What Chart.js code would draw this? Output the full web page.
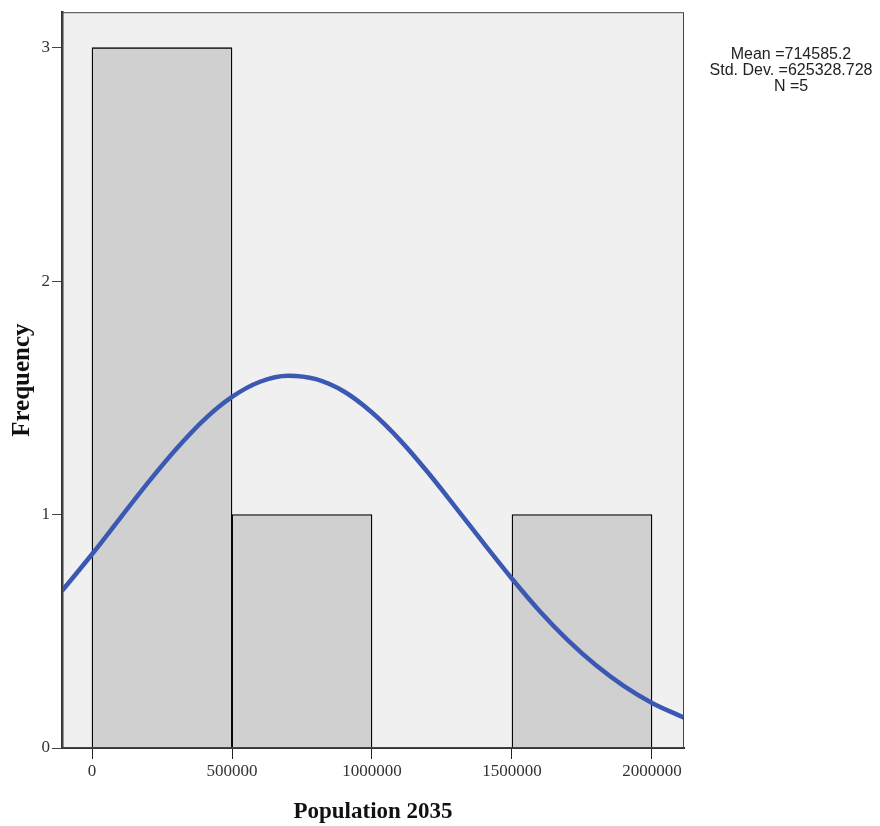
<!DOCTYPE html>
<html>
<head>
<meta charset="utf-8">
<script src="https://cdn.jsdelivr.net/npm/chart.js@4"></script>
<style>
  html, body { margin: 0; padding: 0; background: #fff; }
  #wrap { position: relative; width: 880px; height: 826px; }
  #stats {
    position: absolute; left: 701px; top: 46px; width: 180px;
    font-family: "Liberation Sans", Arial, sans-serif; font-size: 16px;
    line-height: 16px; text-align: center; color: #222;
  }
</style>
</head>
<body>
<div id="wrap">
  <canvas id="hist" width="880" height="826"></canvas>
  <div id="stats">Mean =714585.2<br>Std. Dev. =625328.728<br>N =5</div>
</div>
<script>
// Histogram bins (bin centres) and counts
const binCenters = [250000, 750000, 1250000, 1750000];
const binCounts = [3, 1, 0, 1];

// Normal curve
const curveX = [-107143, 0, 100000, 200000, 300000, 400000, 500000, 600000, 700000,
  800000, 900000, 1000000, 1100000, 1200000, 1300000, 1400000, 1500000, 1600000, 1700000,
  1800000, 1900000, 2000000, 2114286];
const curveY = [0.673, 0.830, 0.984, 1.137, 1.280, 1.406, 1.504, 1.569, 1.595,
  1.580, 1.527, 1.437, 1.319, 1.180, 1.029, 0.875, 0.725, 0.585, 0.461,
  0.354, 0.265, 0.193, 0.130];

const xTicks = [0, 500000, 1000000, 1500000, 2000000];
const yTicks = [0, 1, 2, 3];

const plotBg = {
  id: 'plotBg',
  beforeDraw(chart) {
    const { ctx, chartArea: a } = chart;
    ctx.save();
    ctx.fillStyle = '#f0f0f0';
    ctx.fillRect(a.left, a.top, a.right - a.left, a.bottom - a.top);
    ctx.restore();
  },
  afterDraw(chart) {
    const { ctx, chartArea: a } = chart;
    ctx.save();
    ctx.strokeStyle = '#444';
    ctx.lineWidth = 1;
    ctx.strokeRect(a.left + 0.5, a.top + 0.5, a.right - a.left - 1, a.bottom - a.top - 1);
    ctx.restore();
  }
};

const serif = '"Liberation Serif", "Times New Roman", serif';

new Chart(document.getElementById('hist'), {
  type: 'bar',
  data: {
    datasets: [
      {
        type: 'line',
        data: curveX.map((x, i) => ({ x: x, y: curveY[i] })),
        borderColor: '#3b58b3',
        borderWidth: 4.5,
        pointRadius: 0,
        cubicInterpolationMode: 'monotone',
        fill: false,
        order: 0
      },
      {
        type: 'bar',
        data: binCenters.map((x, i) => ({ x: x, y: binCounts[i] })),
        backgroundColor: '#d0d0d0',
        borderColor: '#000',
        borderWidth: 1.3,
        barPercentage: 1,
        categoryPercentage: 1,
        order: 1
      }
    ]
  },
  options: {
    responsive: false,
    animation: false,
    layout: { padding: { left: 0, top: 10, right: 196, bottom: 0 } },
    plugins: { legend: { display: false }, tooltip: { enabled: false } },
    scales: {
      x: {
        type: 'linear',
        offset: false,
        min: -107143,
        max: 2114286,
        afterBuildTicks: s => { s.ticks = xTicks.map(v => ({ value: v })); },
        afterFit: s => { s.height = 78; },
        grid: { offset: false, drawOnChartArea: false, drawTicks: true, tickLength: 11, tickColor: '#222', lineWidth: 1 },
        border: { display: true, color: '#333', width: 2 },
        ticks: { color: '#333', font: { family: serif, size: 17 }, padding: 2, maxRotation: 0,
          callback: v => String(v) },
        title: { display: true, text: 'Population 2035', color: '#111',
          font: { family: serif, size: 23, weight: 'bold' }, padding: { top: 13, bottom: 0 } }
      },
      y: {
        min: 0,
        max: 3.152,
        afterBuildTicks: s => { s.ticks = yTicks.map(v => ({ value: v })); },
        afterFit: s => { s.width = 62; },
        grid: { drawOnChartArea: false, drawTicks: true, tickLength: 10, tickColor: '#444', lineWidth: 1 },
        border: { display: true, color: '#333', width: 2.5 },
        ticks: { color: '#333', font: { family: serif, size: 17 }, padding: 2, callback: v => String(v) },
        title: { display: true, text: 'Frequency', color: '#111',
          font: { family: serif, size: 25, weight: 'bold' }, padding: { top: 8, bottom: 0 } }
      }
    }
  },
  plugins: [plotBg]
});
</script>
</body>
</html>
